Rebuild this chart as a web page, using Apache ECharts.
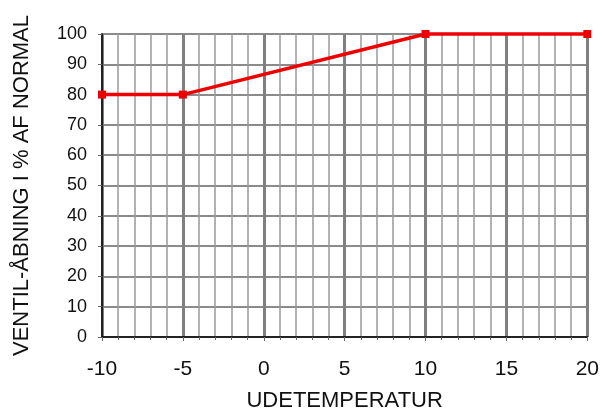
<!DOCTYPE html>
<html><head><meta charset="utf-8">
<script src="https://cdn.jsdelivr.net/npm/echarts@6/dist/echarts.min.js"></script>
<style>html,body{margin:0;padding:0;background:#fff}#c{width:602px;height:417px}</style>
</head><body><div id="c"></div>
<script>
const temps = [-10, -5, 10, 20];
const valve = [80, 80, 100, 100];
const xName = 'UDETEMPERATUR';
const yName = 'VENTIL-ÅBNING I % AF NORMAL';
const chart = echarts.init(document.getElementById('c'));
const font = 'Liberation Sans, Arial, sans-serif';
chart.setOption({
  animation: false,
  grid: {left: 102, right: 12, top: 34, bottom: 75, show: true, borderColor: '#000', borderWidth: 1.5},
  xAxis: {
    type: 'value', min: -10, max: 20, interval: 5,
    name: xName, nameLocation: 'middle', nameGap: 53,
    nameTextStyle: {color: '#111', fontFamily: font, fontSize: 22},
    axisLine: {onZero: false, lineStyle: {color: '#000', width: 1.5}},
    axisTick: {show: true, length: 4, lineStyle: {color: '#666'}},
    minorTick: {show: true, splitNumber: 5, length: 3, lineStyle: {color: '#666'}},
    axisLabel: {color: '#111', fontFamily: font, fontSize: 21, margin: 22},
    splitLine: {show: true, lineStyle: {color: '#808080', width: 3}},
    minorSplitLine: {show: true, lineStyle: {color: '#9a9a9a', width: 1.5}}
  },
  yAxis: {
    type: 'value', min: 0, max: 100, interval: 10,
    name: yName, nameLocation: 'middle', nameGap: 69, nameRotate: 90,
    nameTextStyle: {color: '#111', fontFamily: font, fontSize: 22},
    axisLine: {onZero: false, lineStyle: {color: '#000', width: 1.5}},
    axisTick: {show: true, length: 4, lineStyle: {color: '#666'}},
    axisLabel: {color: '#111', fontFamily: font, fontSize: 18, margin: 15},
    splitLine: {show: true, lineStyle: {color: '#8a8a8a', width: 2}}
  },
  series: [{
    type: 'line',
    data: temps.map((t, i) => [t, valve[i]]),
    symbol: 'rect', symbolSize: 8,
    itemStyle: {color: '#ee0000'},
    lineStyle: {color: '#ee0000', width: 3.5},
    clip: false
  }]
});
</script></body></html>
